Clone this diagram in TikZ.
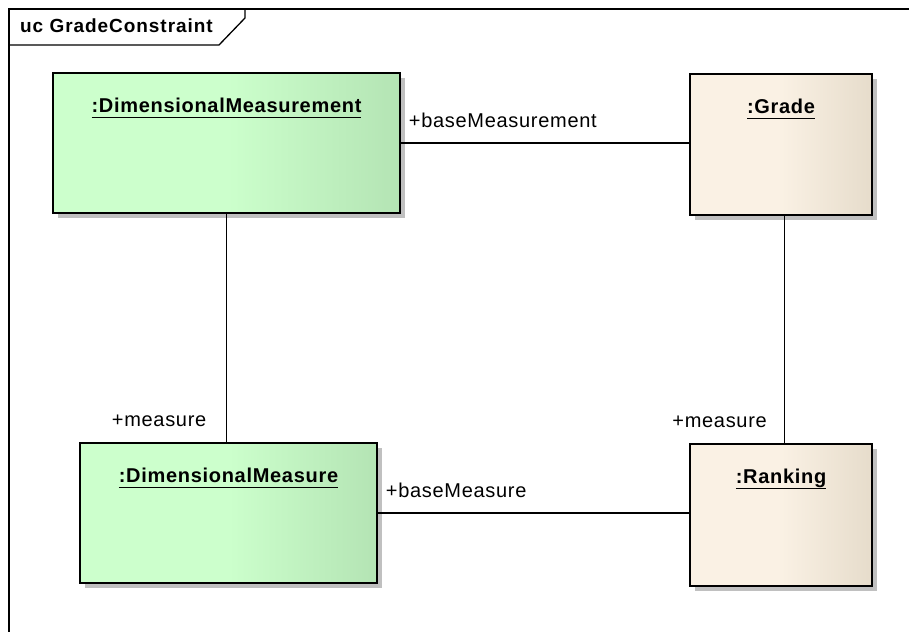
\documentclass[tikz,border=0pt]{standalone}
\usepackage{fontspec}
\setmainfont[LetterSpace=3.5]{Liberation Sans}
\usetikzlibrary{shadows}

\definecolor{obj green}{HTML}{CCFFCC}
\definecolor{obj green dark}{HTML}{B4E4B4}
\definecolor{obj tan}{HTML}{FAF1E4}
\definecolor{obj tan dark}{HTML}{E6DCCB}
\definecolor{shadow grey}{HTML}{C0C0C0}
\pgfdeclarehorizontalshading{greenobj}{100bp}{color(0bp)=(obj green); color(50bp)=(obj green); color(75bp)=(obj green dark); color(100bp)=(obj green dark)}
\pgfdeclarehorizontalshading{tanobj}{100bp}{color(0bp)=(obj tan); color(50bp)=(obj tan); color(75bp)=(obj tan dark); color(100bp)=(obj tan dark)}
\newcommand{\objname}[1]{\setbox0\hbox{#1}\rlap{\rule[-6pt]{\wd0}{1.8pt}}\box0}

\begin{document}
\begin{tikzpicture}[x=1pt,y=-1pt,
  obj/.style={draw=black, line width=1.4pt, inner sep=0pt,
    drop shadow={shadow xshift=5pt, shadow yshift=-5pt, fill=shadow grey, opacity=1}},
  green obj/.style={obj, shading=greenobj},
  tan obj/.style={obj, shading=tanobj},
  obj name/.style={anchor=north, yshift=-25.5pt, inner sep=0pt, font=\bfseries\fontsize{20}{24}\selectfont},
  role/.style={inner sep=0pt, font=\fontsize{20}{24}\selectfont},
  link/.style={line width=1.3pt}]
\useasboundingbox (0,0) rectangle (909,631);

% diagram frame
\draw[line width=1.3pt] (9,640) -- (9,9) -- (920,9);
\draw[line width=1.3pt] (9,45) -- (219,45) -- (245,18) -- (245,9);
\node[inner sep=0pt, anchor=base west, font=\bfseries\fontsize{19}{22}\selectfont\addfontfeatures{LetterSpace=5}] (title) at (20,32.5) {uc GradeConstraint};

% objects
\node[green obj, minimum width=347pt, minimum height=140pt,
  label={[obj name]north:\objname{:DimensionalMeasurement}}] (dmt) at (226.5,143) {};
\node[tan obj, minimum width=182pt, minimum height=141pt,
  label={[obj name]north:\objname{:Grade}}] (grade) at (781,144.5) {};
\node[green obj, minimum width=297pt, minimum height=140pt,
  label={[obj name]north:\objname{:DimensionalMeasure}}] (dm) at (228.5,513) {};
\node[tan obj, minimum width=182pt, minimum height=142pt,
  label={[obj name]north:\objname{:Ranking}}] (rank) at (781,515) {};

% links
\draw[link] (dmt.east) -- (dmt.east -| grade.west);
\draw[link] (dmt.south) -- (dmt.south |- dm.north);
\draw[link] ([xshift=3.5pt]grade.south) -- ([xshift=3.5pt]grade.south |- rank.north);
\draw[link] (dm.east) -- (dm.east -| rank.west);

% roles
\node[role, anchor=base west] (base measurement) at ([xshift=8pt,yshift=15pt]dmt.east) {+baseMeasurement};
\node[role, anchor=base west] (base measure) at ([xshift=8pt,yshift=15.5pt]dm.east) {+baseMeasure};
\node[role, anchor=base east] (dm measure) at ([xshift=-20pt,yshift=16pt]dmt.south |- dm.north) {+measure};
\node[role, anchor=base east] (rank measure) at ([xshift=-14pt,yshift=16pt]grade.south |- rank.north) {+measure};

\end{tikzpicture}
\end{document}
